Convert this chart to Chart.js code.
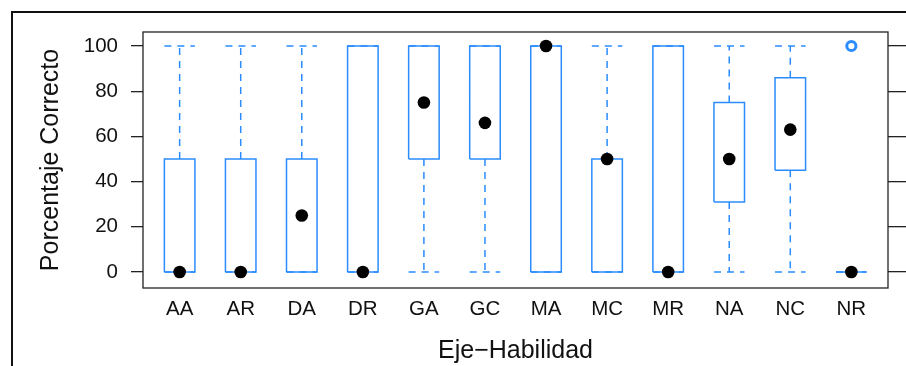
<!DOCTYPE html>
<html>
<head>
<meta charset="utf-8">
<script src="https://cdn.jsdelivr.net/npm/chart.js@4/dist/chart.umd.min.js"></script>
<style>
  html, body { margin: 0; padding: 0; background: #fff; overflow: hidden; }
  #wrap { position: relative; width: 906px; height: 366px; overflow: hidden; background: #fff; }
  #frame { position: absolute; left: 11px; top: 11px; width: 1000px; height: 1000px;
           border: 2px solid #111; box-sizing: border-box; }
  canvas { position: absolute; left: 0; top: 0; }
</style>
</head>
<body>
<div id="wrap">
  <div id="frame"></div>
  <canvas id="chart" width="906" height="366"></canvas>
</div>
<script>
// Box-and-whisker summary per axis/skill group
const categories    = ['AA', 'AR', 'DA', 'DR', 'GA', 'GC', 'MA', 'MC', 'MR', 'NA', 'NC', 'NR'];
const lowerWhisker  = [0, 0, 0, 0, 0, 0, 0, 0, 0, 0, 0, 0];
const lowerQuartile = [0, 0, 0, 0, 50, 50, 0, 0, 0, 31, 45, 0];
const medians       = [0, 0, 25, 0, 75, 66, 100, 50, 0, 50, 63, 0];
const upperQuartile = [50, 50, 50, 100, 100, 100, 100, 50, 100, 75, 86, 0];
const upperWhisker  = [100, 100, 100, 100, 100, 100, 100, 100, 100, 100, 100, 0];
const outlierGroups = ['NR'];
const outlierValues = [100];
const yTickValues   = [0, 20, 40, 60, 80, 100];

const BOX_HALF = 0.25;          // half box width, in category units
const BLUE = '#2a8cff';
const FONT = '"Liberation Sans", Arial, Helvetica, sans-serif';

// Build box outlines, whisker stems and caps as broken polylines
const boxPts = [], stemPts = [], capPts = [];
categories.forEach((c, i) => {
  const x = i + 1, l = x - BOX_HALF, r = x + BOX_HALF;
  const q1 = lowerQuartile[i], q3 = upperQuartile[i];
  boxPts.push({x: l, y: q1}, {x: r, y: q1}, {x: r, y: q3}, {x: l, y: q3}, {x: l, y: q1}, {x: x, y: null});
  stemPts.push({x: x, y: q3}, {x: x, y: upperWhisker[i]}, {x: x, y: null},
               {x: x, y: q1}, {x: x, y: lowerWhisker[i]}, {x: x, y: null});
  capPts.push({x: l, y: upperWhisker[i]}, {x: r, y: upperWhisker[i]}, {x: x, y: null},
              {x: l, y: lowerWhisker[i]}, {x: r, y: lowerWhisker[i]}, {x: x, y: null});
});
const medianPts = categories.map((c, i) => ({x: i + 1, y: medians[i]}));
const outlierPts = outlierGroups.map((g, k) => ({x: categories.indexOf(g) + 1, y: outlierValues[k]}));

// Panel border around the plotting area
const panelFrame = {
  id: 'panelFrame',
  afterDraw(chart) {
    const {ctx, chartArea: a} = chart;
    ctx.save();
    ctx.strokeStyle = '#222';
    ctx.lineWidth = 1.3;
    ctx.strokeRect(a.left, a.top, a.right - a.left, a.bottom - a.top);
    ctx.restore();
  }
};

const lineStyle = {
  showLine: true, spanGaps: false, fill: false, tension: 0,
  pointRadius: 0, pointHoverRadius: 0, borderColor: BLUE, borderWidth: 1.5
};

new Chart(document.getElementById('chart'), {
  type: 'scatter',
  data: {
    datasets: [
      { label: 'Mediana', data: medianPts, pointRadius: 6.3, pointHoverRadius: 6.3,
        backgroundColor: '#000', borderWidth: 0, pointBorderWidth: 0 },
      { label: 'Atípicos', data: outlierPts, pointRadius: 4.6, pointHoverRadius: 4.6,
        backgroundColor: 'rgba(0,0,0,0)', borderColor: BLUE, pointBorderWidth: 3, borderWidth: 3 },
      Object.assign({ label: 'Caja', data: boxPts }, lineStyle),
      Object.assign({ label: 'Extremos', data: capPts, borderDash: [7, 6] }, lineStyle),
      Object.assign({ label: 'Bigotes', data: stemPts, borderDash: [7, 6] }, lineStyle)
    ]
  },
  options: {
    responsive: false,
    devicePixelRatio: 1,
    animation: false,
    layout: { padding: { top: 32, right: 0, bottom: 0, left: 0 } },
    plugins: { legend: { display: false }, tooltip: { enabled: false } },
    scales: {
      x: {
        type: 'linear', position: 'bottom', min: 0.4, max: 12.6,
        afterBuildTicks: s => { s.ticks = categories.map((c, i) => ({value: i + 1})); },
        afterFit: s => { s.height = 78; },
        grid: { display: false },
        border: { display: false },
        ticks: {
          autoSkip: false, maxRotation: 0, minRotation: 0, padding: 1.5, color: '#111',
          font: { family: FONT, size: 20.5 },
          callback: v => categories[Math.round(v) - 1] ?? ''
        },
        title: { display: true, text: 'Eje−Habilidad', color: '#111',
                 font: { family: FONT, size: 25 }, padding: { top: 0, bottom: 0 } }
      },
      y: {
        type: 'linear', position: 'left', min: -7.1, max: 106.2,
        afterBuildTicks: s => { s.ticks = yTickValues.map(v => ({value: v})); },
        afterFit: s => { s.width = 143; },
        grid: { drawOnChartArea: false, drawTicks: true, tickLength: 12, color: '#222', lineWidth: 1.3 },
        border: { display: false },
        ticks: { padding: 13, color: '#111', font: { family: FONT, size: 20.5 } },
        title: { display: true, text: 'Porcentaje Correcto', color: '#111',
                 font: { family: FONT, size: 25 }, padding: { top: 36, bottom: 0 } }
      },
      yRight: {
        type: 'linear', position: 'right', min: -7.1, max: 106.2,
        afterBuildTicks: s => { s.ticks = yTickValues.map(v => ({value: v})); },
        afterFit: s => { s.width = 18; },
        grid: { drawOnChartArea: false, drawTicks: true, tickLength: 18, color: '#222', lineWidth: 1.3 },
        border: { display: false },
        ticks: { display: false }
      }
    }
  },
  plugins: [panelFrame]
});
</script>
</body>
</html>
